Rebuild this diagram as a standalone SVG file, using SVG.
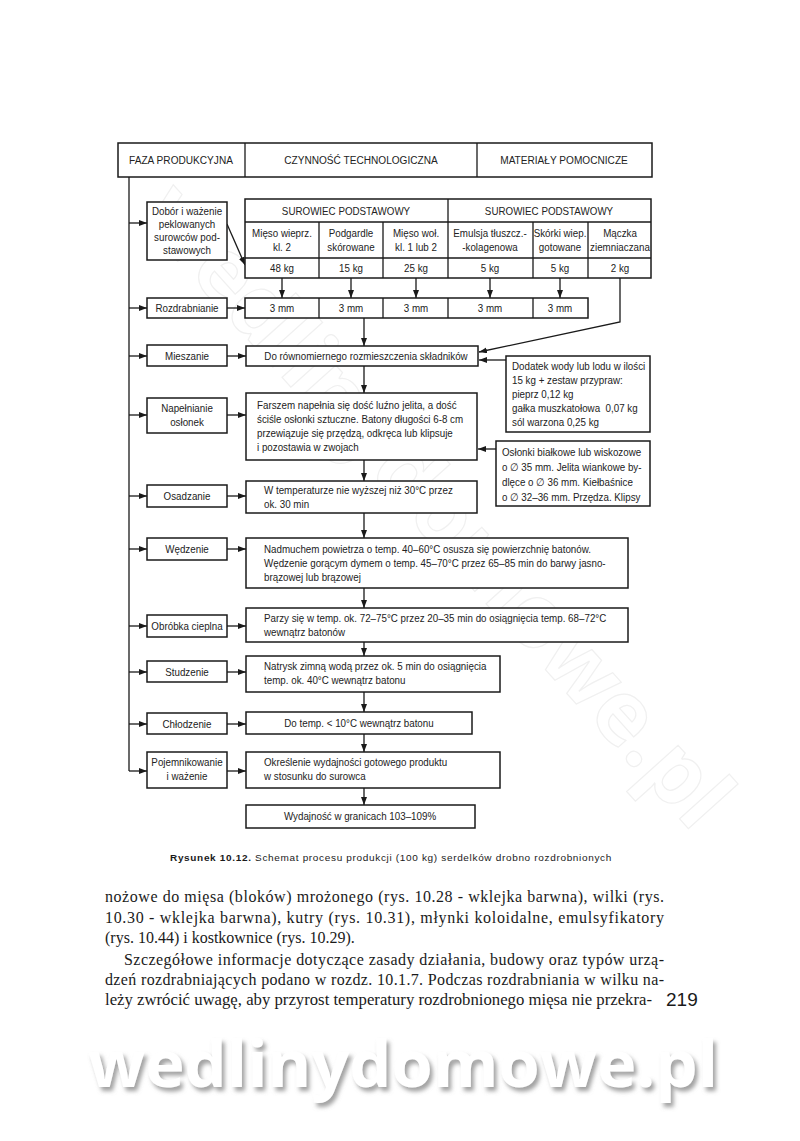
<svg xmlns="http://www.w3.org/2000/svg" width="800" height="1141" viewBox="0 0 800 1141">
<style>
.bx{fill:#fff;stroke:#1a1a1a;stroke-width:1.5}
.ln{fill:none;stroke:#1a1a1a;stroke-width:1.3}
.ar{fill:none;stroke:#1a1a1a;stroke-width:1.3;marker-end:url(#ah)}
text{font-family:"Liberation Sans",Arial,sans-serif;font-size:11px;fill:#222}
.c{text-anchor:middle}
.body{font-family:"Liberation Serif","Times New Roman",serif;font-size:16px;fill:#1a1a1a}
</style>
<defs>
<marker id="ah" markerWidth="9" markerHeight="7" refX="8" refY="3" orient="auto" markerUnits="userSpaceOnUse">
<path d="M0,0 L8,3 L0,6 z" fill="#1a1a1a"/>
</marker>
<filter id="sh" x="-5%" y="-20%" width="115%" height="160%">
<feDropShadow dx="3" dy="4" stdDeviation="2" flood-color="#8a8a8a" flood-opacity="0.8"/>
</filter>
</defs>
<rect width="800" height="1141" fill="#fff"/>
<text x="415" y="525" transform="rotate(48 415 525)" text-anchor="middle" style="font-family:'Open Sans',sans-serif;font-size:88px;font-weight:bold;fill:none;stroke:#f0f0f0;stroke-width:1.2">wedlinydomowe.pl</text>

<g id="header">
<rect class="bx" x="118" y="143" width="534" height="34"/>
<line class="ln" x1="245" y1="143" x2="245" y2="177"/>
<line class="ln" x1="477" y1="143" x2="477" y2="177"/>
<text class="c" transform="translate(181 164) scale(.92 1)">FAZA PRODUKCYJNA</text>
<text class="c" transform="translate(361 164) scale(.92 1)">CZYNNOŚĆ TECHNOLOGICZNA</text>
<text class="c" transform="translate(564 164) scale(.92 1)">MATERIAŁY POMOCNICZE</text>
</g>

<g id="connectors">
<path class="ln" d="M129,177 V771"/>
<path class="ar" d="M129,223 H147"/>
<path class="ar" d="M129,308 H147"/>
<path class="ar" d="M129,356 H147"/>
<path class="ar" d="M129,415 H147"/>
<path class="ar" d="M129,496 H147"/>
<path class="ar" d="M129,549 H147"/>
<path class="ar" d="M129,626 H147"/>
<path class="ar" d="M129,672 H147"/>
<path class="ar" d="M129,724 H147"/>
<path class="ar" d="M129,771 H147"/>
<path class="ar" d="M227,224 L245,265"/>
<path class="ar" d="M227,308 H245"/>
<path class="ar" d="M227,356 H246"/>
<path class="ar" d="M227,415 H246"/>
<path class="ar" d="M227,496 H246"/>
<path class="ar" d="M227,549 H246"/>
<path class="ar" d="M227,626 H246"/>
<path class="ar" d="M227,672 H246"/>
<path class="ar" d="M227,724 H246"/>
<path class="ar" d="M227,771 H246"/>
<path class="ar" d="M282,278 V298"/>
<path class="ar" d="M351,278 V298"/>
<path class="ar" d="M416,278 V298"/>
<path class="ar" d="M490,278 V298"/>
<path class="ar" d="M560,278 V298"/>
<path class="ar" d="M620,278 V322 L479,352"/>
<path class="ar" d="M364,318 V346"/>
<path class="ar" d="M506,360 H479"/>
<path class="ar" d="M364,366 V393"/>
<path class="ar" d="M496,449 H478"/>
<path class="ar" d="M364,460 V481"/>
<path class="ar" d="M364,513 V538"/>
<path class="ar" d="M364,588 V608"/>
<path class="ar" d="M364,642 V656"/>
<path class="ar" d="M364,692 V712"/>
<path class="ar" d="M364,734 V752"/>
<path class="ar" d="M364,788 V805"/>
</g>

<g id="phase-dobor">
<rect class="bx" x="147" y="202" width="80" height="58"/>
<text class="c" transform="translate(187 215) scale(.89 1)">Dobór i ważenie</text>
<text class="c" transform="translate(187 228) scale(.89 1)">peklowanych</text>
<text class="c" transform="translate(187 241) scale(.89 1)">surowców pod-</text>
<text class="c" transform="translate(187 254) scale(.89 1)">stawowych</text>
</g>

<g id="table-surowiec">
<rect class="bx" x="245" y="199" width="406" height="79"/>
<path class="ln" d="M245,222 H651 M245,258 H651 M448,199 V278 M319,222 V278 M383,222 V278 M533,222 V278 M588,222 V278"/>
<text class="c" transform="translate(346 215) scale(.89 1)">SUROWIEC PODSTAWOWY</text>
<text class="c" transform="translate(549 215) scale(.89 1)">SUROWIEC PODSTAWOWY</text>
<text class="c" transform="translate(282 237) scale(.89 1)">Mięso wieprz.</text>
<text class="c" transform="translate(282 251) scale(.89 1)">kl. 2</text>
<text class="c" transform="translate(351 237) scale(.89 1)">Podgardle</text>
<text class="c" transform="translate(351 251) scale(.89 1)">skórowane</text>
<text class="c" transform="translate(416 237) scale(.89 1)">Mięso woł.</text>
<text class="c" transform="translate(416 251) scale(.89 1)">kl. 1 lub 2</text>
<text class="c" transform="translate(490 237) scale(.89 1)">Emulsja tłuszcz.-</text>
<text class="c" transform="translate(490 251) scale(.89 1)">-kolagenowa</text>
<text class="c" transform="translate(560 237) scale(.89 1)">Skórki wiep.</text>
<text class="c" transform="translate(560 251) scale(.89 1)">gotowane</text>
<text class="c" transform="translate(620 237) scale(.89 1)">Mączka</text>
<text class="c" transform="translate(620 251) scale(.89 1)">ziemniaczana</text>
<text class="c" transform="translate(282 272) scale(.89 1)">48 kg</text>
<text class="c" transform="translate(351 272) scale(.89 1)">15 kg</text>
<text class="c" transform="translate(416 272) scale(.89 1)">25 kg</text>
<text class="c" transform="translate(490 272) scale(.89 1)">5 kg</text>
<text class="c" transform="translate(560 272) scale(.89 1)">5 kg</text>
<text class="c" transform="translate(620 272) scale(.89 1)">2 kg</text>
</g>

<g id="phase-rozdrabnianie">
<rect class="bx" x="147" y="298" width="80" height="20"/>
<text class="c" transform="translate(187 312) scale(.89 1)">Rozdrabnianie</text>
</g>
<g id="row-3mm">
<rect class="bx" x="245" y="298" width="343" height="20"/>
<path class="ln" d="M319,298 V318 M383,298 V318 M448,298 V318 M533,298 V318"/>
<text class="c" transform="translate(282 312) scale(.89 1)">3 mm</text>
<text class="c" transform="translate(351 312) scale(.89 1)">3 mm</text>
<text class="c" transform="translate(416 312) scale(.89 1)">3 mm</text>
<text class="c" transform="translate(490 312) scale(.89 1)">3 mm</text>
<text class="c" transform="translate(560 312) scale(.89 1)">3 mm</text>
</g>

<g id="phase-mieszanie">
<rect class="bx" x="147" y="345" width="80" height="21"/>
<text class="c" transform="translate(187 360) scale(.89 1)">Mieszanie</text>
</g>
<g id="proc-mieszanie">
<rect class="bx" x="246" y="346" width="232" height="20"/>
<text class="c" transform="translate(366 360) scale(.89 1)">Do równomiernego rozmieszczenia składników</text>
</g>
<g id="mat-dodatek">
<rect class="bx" x="506" y="356" width="144" height="76"/>
<text transform="translate(512 370) scale(.89 1)">Dodatek wody lub lodu w ilości</text>
<text transform="translate(512 384) scale(.89 1)">15 kg + zestaw przypraw:</text>
<text transform="translate(512 398) scale(.89 1)">pieprz 0,12 kg</text>
<text transform="translate(512 412) scale(.89 1)" xml:space="preserve">gałka muszkatołowa  0,07 kg</text>
<text transform="translate(512 426) scale(.89 1)">sól warzona 0,25 kg</text>
</g>

<g id="phase-napelnianie">
<rect class="bx" x="147" y="398" width="80" height="35"/>
<text class="c" transform="translate(187 412) scale(.89 1)">Napełnianie</text>
<text class="c" transform="translate(187 426) scale(.89 1)">osłonek</text>
</g>
<g id="proc-napelnianie">
<rect class="bx" x="246" y="393" width="231" height="67"/>
<text transform="translate(257 409) scale(.89 1)">Farszem napełnia się dość luźno jelita, a dość</text>
<text transform="translate(257 423) scale(.89 1)">ściśle osłonki sztuczne. Batony długości 6-8 cm</text>
<text transform="translate(257 437) scale(.89 1)">przewiązuje się przędzą, odkręca lub klipsuje</text>
<text transform="translate(257 451) scale(.89 1)">i pozostawia w zwojach</text>
</g>
<g id="mat-oslonki">
<rect class="bx" x="496" y="441" width="154" height="65"/>
<text transform="translate(502 456) scale(.89 1)">Osłonki białkowe lub wiskozowe</text>
<text transform="translate(502 471) scale(.89 1)">o ∅ 35 mm. Jelita wiankowe by-</text>
<text transform="translate(502 486) scale(.89 1)">dlęce o ∅ 36 mm. Kiełbaśnice</text>
<text transform="translate(502 501) scale(.89 1)">o ∅ 32–36 mm. Przędza. Klipsy</text>
</g>

<g id="phase-osadzanie">
<rect class="bx" x="147" y="485" width="80" height="22"/>
<text class="c" transform="translate(187 500) scale(.89 1)">Osadzanie</text>
</g>
<g id="proc-osadzanie">
<rect class="bx" x="246" y="481" width="231" height="32"/>
<text transform="translate(264 494) scale(.89 1)">W temperaturze nie wyższej niż 30°C przez</text>
<text transform="translate(264 508) scale(.89 1)">ok. 30 min</text>
</g>

<g id="phase-wedzenie">
<rect class="bx" x="147" y="538" width="80" height="22"/>
<text class="c" transform="translate(187 553) scale(.89 1)">Wędzenie</text>
</g>
<g id="proc-wedzenie">
<rect class="bx" x="246" y="538" width="382" height="50"/>
<text transform="translate(264 553) scale(.89 1)">Nadmuchem powietrza o temp. 40–60°C osusza się powierzchnię batonów.</text>
<text transform="translate(264 567) scale(.89 1)">Wędzenie gorącym dymem o temp. 45–70°C przez 65–85 min do barwy jasno-</text>
<text transform="translate(264 581) scale(.89 1)">brązowej lub brązowej</text>
</g>

<g id="phase-obrobka">
<rect class="bx" x="147" y="615" width="80" height="22"/>
<text class="c" transform="translate(187 630) scale(.89 1)">Obróbka cieplna</text>
</g>
<g id="proc-obrobka">
<rect class="bx" x="246" y="608" width="382" height="34"/>
<text transform="translate(264 622) scale(.89 1)">Parzy się w temp. ok. 72–75°C przez 20–35 min do osiągnięcia temp. 68–72°C</text>
<text transform="translate(264 636) scale(.89 1)">wewnątrz batonów</text>
</g>

<g id="phase-studzenie">
<rect class="bx" x="147" y="661" width="80" height="21"/>
<text class="c" transform="translate(187 676) scale(.89 1)">Studzenie</text>
</g>
<g id="proc-studzenie">
<rect class="bx" x="246" y="656" width="254" height="36"/>
<text transform="translate(264 670) scale(.89 1)">Natrysk zimną wodą przez ok. 5 min do osiągnięcia</text>
<text transform="translate(264 684) scale(.89 1)">temp. ok. 40°C wewnątrz batonu</text>
</g>

<g id="phase-chlodzenie">
<rect class="bx" x="147" y="713" width="80" height="21"/>
<text class="c" transform="translate(187 728) scale(.89 1)">Chłodzenie</text>
</g>
<g id="proc-chlodzenie">
<rect class="bx" x="246" y="712" width="226" height="22"/>
<text class="c" transform="translate(359 727) scale(.89 1)">Do temp. &lt; 10°C wewnątrz batonu</text>
</g>

<g id="phase-pojemnikowanie">
<rect class="bx" x="147" y="752" width="80" height="36"/>
<text class="c" transform="translate(187 766) scale(.89 1)">Pojemnikowanie</text>
<text class="c" transform="translate(187 780) scale(.89 1)">i ważenie</text>
</g>
<g id="proc-pojemnikowanie">
<rect class="bx" x="246" y="752" width="254" height="36"/>
<text transform="translate(264 766) scale(.89 1)">Określenie wydajności gotowego produktu</text>
<text transform="translate(264 780) scale(.89 1)">w stosunku do surowca</text>
</g>

<g id="proc-wydajnosc">
<rect class="bx" x="246" y="805" width="229" height="23"/>
<text class="c" transform="translate(360 820) scale(.89 1)">Wydajność w granicach 103–109%</text>
</g>

<g id="caption">
<text x="170" y="861" textLength="442" lengthAdjust="spacingAndGlyphs" style="font-family:'Liberation Sans',Arial,sans-serif;font-size:9px;letter-spacing:0.6px;fill:#1a1a1a"><tspan font-weight="bold">Rysunek 10.12.</tspan> Schemat procesu produkcji (100 kg) serdelków drobno rozdrobnionych</text>
</g>

<g id="body-text">
<text class="body" x="105" y="902" textLength="559" lengthAdjust="spacing">nożowe do mięsa (bloków) mrożonego (rys. 10.28 - wklejka barwna), wilki (rys.</text>
<text class="body" x="105" y="923" textLength="559" lengthAdjust="spacing">10.30 - wklejka barwna), kutry (rys. 10.31), młynki koloidalne, emulsyfikatory</text>
<text class="body" x="105" y="943">(rys. 10.44) i kostkownice (rys. 10.29).</text>
<text class="body" x="124" y="965" textLength="540" lengthAdjust="spacing">Szczegółowe informacje dotyczące zasady działania, budowy oraz typów urzą-</text>
<text class="body" x="105" y="985" textLength="559" lengthAdjust="spacing">dzeń rozdrabniających podano w rozdz. 10.1.7. Podczas rozdrabniania w wilku na-</text>
<text class="body" x="105" y="1005" textLength="547" lengthAdjust="spacingAndGlyphs">leży zwrócić uwagę, aby przyrost temperatury rozdrobnionego mięsa nie przekra-</text>
<text x="666" y="1006" style="font-family:'Liberation Sans',Arial,sans-serif;font-size:19px;fill:#1a1a1a">219</text>
</g>

<g id="watermark">
<text x="88" y="1087" textLength="630" lengthAdjust="spacingAndGlyphs" filter="url(#sh)" style="font-family:'Open Sans',sans-serif;font-size:64px;font-weight:bold;fill:#ffffff">wedlinydomowe.pl</text>
</g>
</svg>
